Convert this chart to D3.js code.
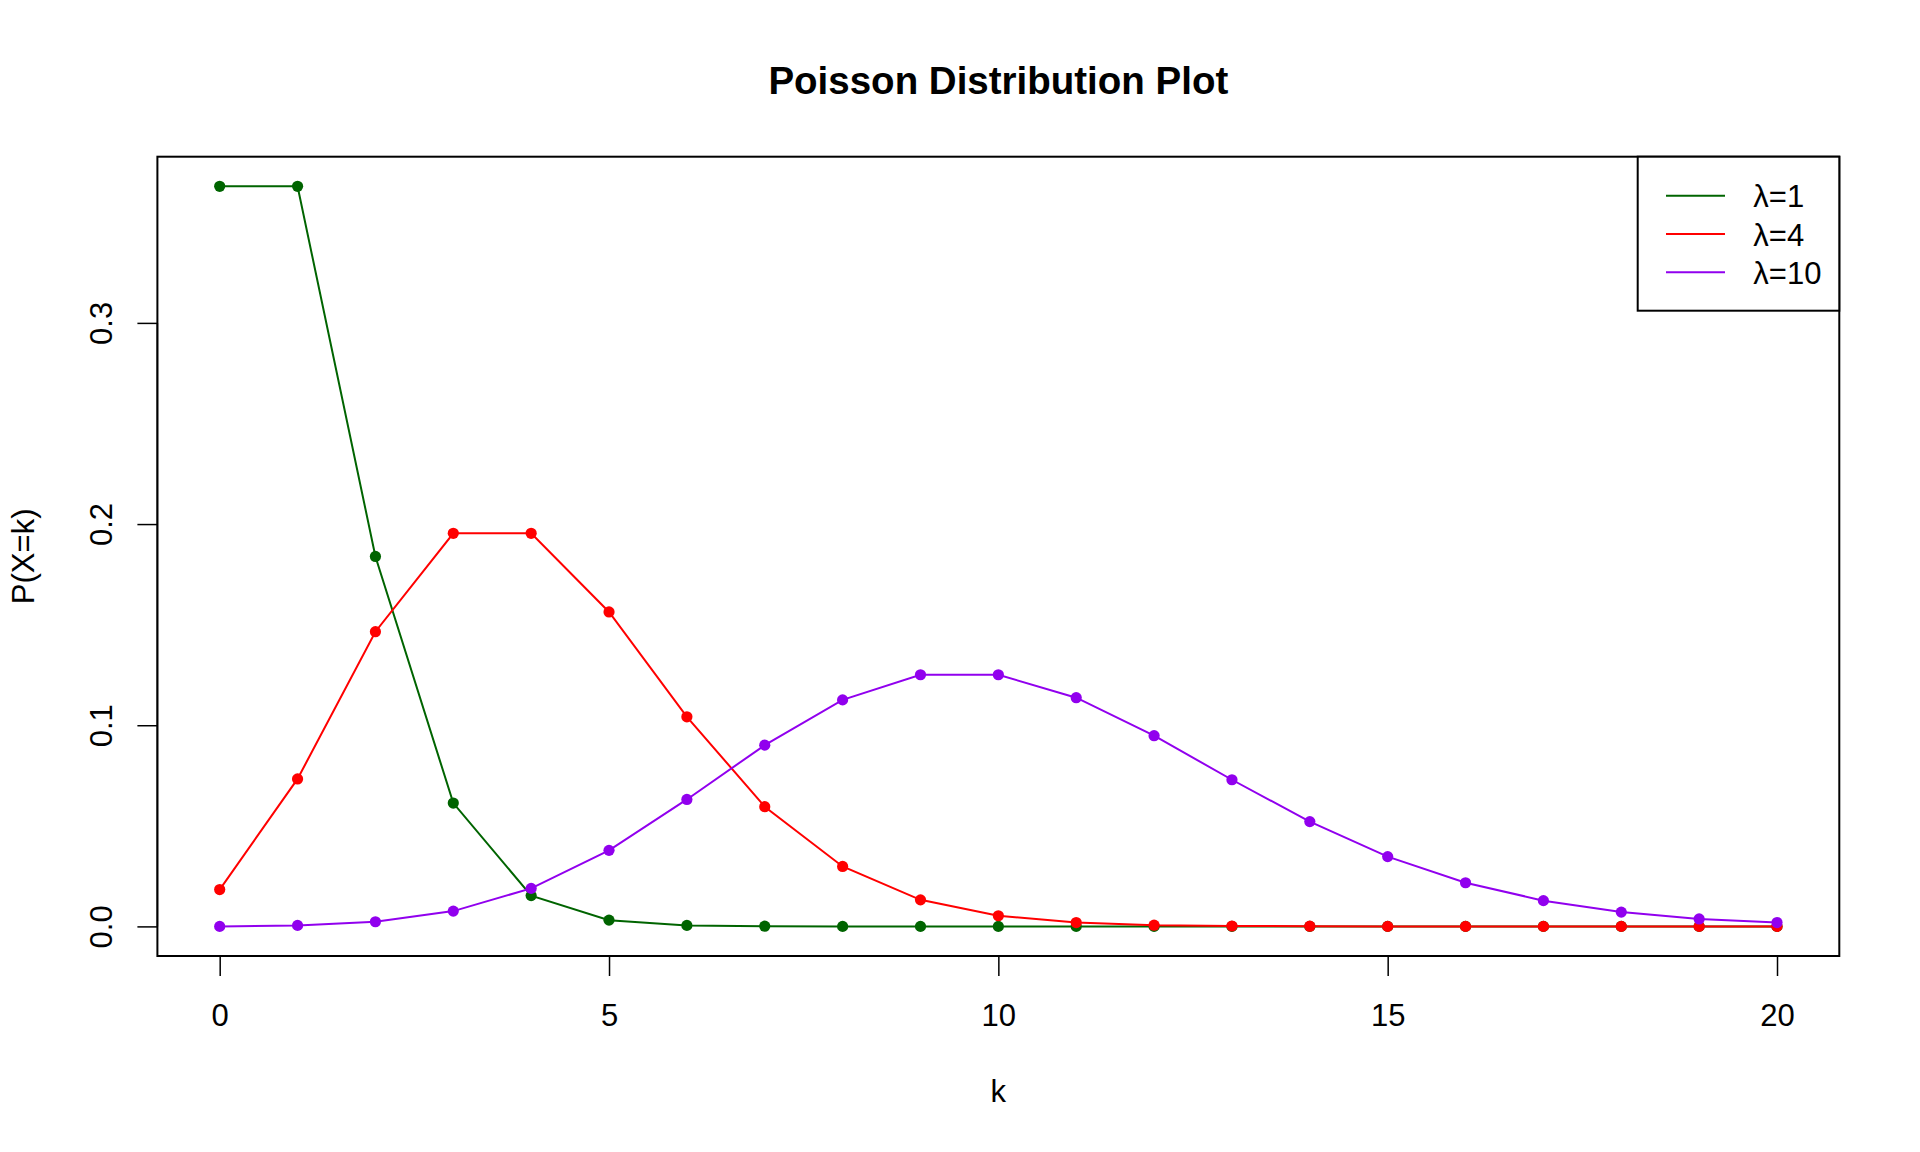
<!DOCTYPE html>
<html>
<head>
<meta charset="utf-8">
<script src="https://cdn.jsdelivr.net/npm/d3@7"></script>
<style>
  html, body { margin: 0; padding: 0; background: #fff; }
  svg { display: block; font-family: "Liberation Sans", Arial, Helvetica, sans-serif; }
</style>
</head>
<body>
<svg id="chart" width="1920" height="1152"></svg>
<script>
// ---- data ----
const kValues = [0,1,2,3,4,5,6,7,8,9,10,11,12,13,14,15,16,17,18,19,20];
const lambda1 = [0.3679,0.3679,0.1839,0.0613,0.0153,0.0031,0.0005,0.0001,0.0000,0.0000,0.0000,0.0000,0.0000,0.0000,0.0000,0.0000,0.0000,0.0000,0.0000,0.0000,0.0000];
const lambda4 = [0.0183,0.0733,0.1465,0.1954,0.1954,0.1563,0.1042,0.0595,0.0298,0.0132,0.0053,0.0019,0.0006,0.0002,0.0001,0.0000,0.0000,0.0000,0.0000,0.0000,0.0000];
const lambda10 = [0.0000,0.0005,0.0023,0.0076,0.0189,0.0378,0.0631,0.0901,0.1126,0.1251,0.1251,0.1137,0.0948,0.0729,0.0521,0.0347,0.0217,0.0128,0.0071,0.0037,0.0019];
const seriesNames = ["λ=1","λ=4","λ=10"];
const seriesColors = ["#006400","#FF0000","#9100EE"];
const xTicks = [0,5,10,15,20];
const yTicks = [0.0,0.1,0.2,0.3];
const yTickLabels = ["0.0","0.1","0.2","0.3"];
const titleText = "Poisson Distribution Plot";
const xLabel = "k";
const yLabel = "P(X=k)";

// ---- layout ----
const svg = d3.select("#chart");
const plot = {left: 157.4, right: 1839.3, top: 156.7, bottom: 956};
const fontSize = 31;

const x = d3.scaleLinear().domain([-0.8, 20.8]).range([plot.left, plot.right]);
const yMax = 0.3679;
const yPad = yMax * 0.04;
const y = d3.scaleLinear().domain([-yPad, yMax + yPad]).range([plot.bottom, plot.top]);

// title
svg.append("text")
  .attr("x", (plot.left + plot.right) / 2)
  .attr("y", 93.5)
  .attr("text-anchor", "middle")
  .attr("font-size", 38.5)
  .attr("font-weight", "bold")
  .text(titleText);

// x axis
const xAxis = d3.axisBottom(x).tickValues(xTicks).tickSize(20).tickPadding(30).tickFormat(d3.format("d"));
const gx = svg.append("g").attr("transform", `translate(0,${plot.bottom})`).call(xAxis);
gx.select(".domain").attr("d", `M${x(0)},0H${x(20)}`).attr("stroke", "#000").attr("stroke-width", 1.5);
gx.selectAll(".tick line").attr("stroke", "#000").attr("stroke-width", 1.5);
gx.selectAll(".tick text").attr("font-size", fontSize).attr("font-family", null).attr("fill", "#000")
  .attr("dy", null).attr("y", 1025.7 - plot.bottom);

// y axis
const yAxis = d3.axisLeft(y).tickValues(yTicks).tickSize(20).tickFormat((d, i) => yTickLabels[i]);
const gy = svg.append("g").attr("transform", `translate(${plot.left},0)`).call(yAxis);
gy.select(".domain").attr("d", `M0,${y(0)}V${y(0.3)}`).attr("stroke", "#000").attr("stroke-width", 1.5);
gy.selectAll(".tick line").attr("stroke", "#000").attr("stroke-width", 1.5);
gy.selectAll(".tick text")
  .attr("font-size", fontSize).attr("font-family", null).attr("fill", "#000")
  .attr("x", null).attr("dy", null)
  .attr("text-anchor", "middle")
  .attr("transform", `translate(${112.3 - plot.left},0) rotate(-90)`);

// box
svg.append("rect")
  .attr("x", plot.left).attr("y", plot.top)
  .attr("width", plot.right - plot.left).attr("height", plot.bottom - plot.top)
  .attr("fill", "none").attr("stroke", "#000").attr("stroke-width", 2);

// axis titles
svg.append("text")
  .attr("x", (plot.left + plot.right) / 2).attr("y", 1101.5)
  .attr("text-anchor", "middle").attr("font-size", fontSize).text(xLabel);
svg.append("text")
  .attr("transform", `translate(33.5,${(plot.top + plot.bottom) / 2}) rotate(-90)`)
  .attr("text-anchor", "middle").attr("font-size", fontSize).text(yLabel);

// series
const allSeries = [lambda1, lambda4, lambda10];
const line = d3.line().x((d, i) => x(kValues[i])).y(d => y(d));
allSeries.forEach((vals, s) => {
  const g = svg.append("g");
  g.append("path").datum(vals)
    .attr("d", line).attr("fill", "none")
    .attr("stroke", seriesColors[s]).attr("stroke-width", 2);
  g.selectAll("circle").data(vals).enter().append("circle")
    .attr("cx", (d, i) => x(kValues[i])).attr("cy", d => y(d))
    .attr("r", 5.6).attr("fill", seriesColors[s]);
});

// legend
const leg = {left: 1637.7, top: plot.top, right: plot.right, bottom: 310.7};
svg.append("rect")
  .attr("x", leg.left).attr("y", leg.top)
  .attr("width", leg.right - leg.left).attr("height", leg.bottom - leg.top)
  .attr("fill", "#fff").attr("stroke", "#000").attr("stroke-width", 2);
const rowY = d3.scalePoint().domain(seriesNames).range([195.7, 272.3]);
seriesNames.forEach((name, s) => {
  const yy = rowY(name);
  svg.append("line")
    .attr("x1", 1666).attr("x2", 1725).attr("y1", yy).attr("y2", yy)
    .attr("stroke", seriesColors[s]).attr("stroke-width", 2);
  svg.append("text")
    .attr("x", 1753.3).attr("y", yy + 11.5)
    .attr("font-size", fontSize).text(name);
});
</script>
</body>
</html>
